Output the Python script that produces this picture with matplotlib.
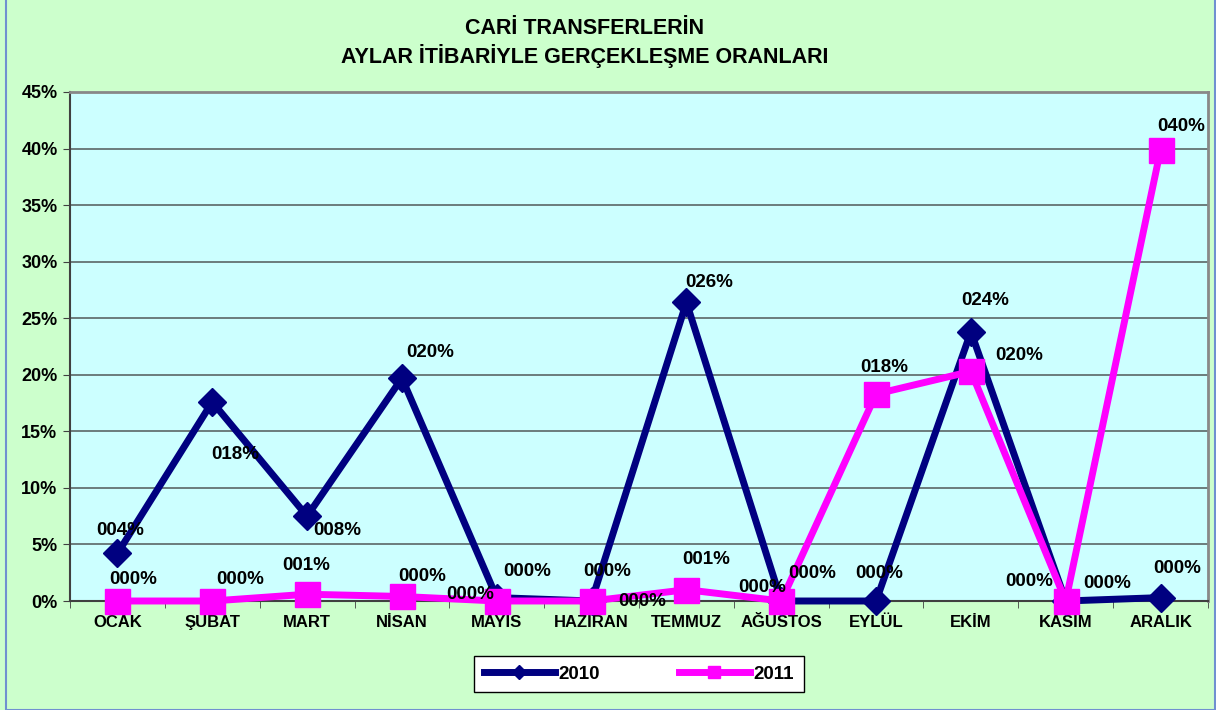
import numpy as np
import matplotlib
matplotlib.use("Agg")
import matplotlib.pyplot as plt
from matplotlib.lines import Line2D
from matplotlib.patches import Rectangle

plt.rcParams['font.family'] = ['Liberation Sans', 'DejaVu Sans']
plt.rcParams['font.weight'] = 'bold'

months = ["OCAK", "ŞUBAT", "MART", "NİSAN", "MAYIS", "HAZİRAN",
          "TEMMUZ", "AĞUSTOS", "EYLÜL", "EKİM", "KASIM", "ARALIK"]
v2010 = [0.042, 0.176, 0.075, 0.197, 0.003, 0.0,
         0.264, 0.0, 0.0, 0.238, 0.0, 0.003]
v2011 = [0.0, 0.0, 0.006, 0.004, 0.0, 0.0,
         0.010, 0.0, 0.183, 0.203, 0.0, 0.399]

# label offsets (pixels) from each point
off2010 = [(3, 23), (23, -53), (30, -14), (28, 26), (-27, 3), (16, 30),
           (23, 20), (-19, 13), (3, 27), (14, 31), (41, 17), (17, 29)]
off2011 = [(16, 22), (28, 22), (-1, 29), (20, 20), (30, 29), (51, 0),
           (20, 30), (31, 27), (8, 27), (48, 16), (-37, 20), (21, 23)]

W, H = 1216, 710
fig = plt.figure(figsize=(W / 100, H / 100), dpi=100, facecolor="#CCFFCC")
fig.patches.append(Rectangle((6 / W, 0.5 / H), (1215 - 6) / W, 1.2, transform=fig.transFigure,
                             fill=False, edgecolor="#7090D0", linewidth=1.5))

ax = fig.add_axes([70 / W, (H - 601) / H, (1208 - 70) / W, (601 - 92) / H])
ax.set_facecolor("#CCFFFF")

x = np.arange(len(months))
ax.plot(x, v2010, color="#000080", lw=5, marker="D", ms=14, zorder=3, clip_on=False)
ax.plot(x, v2011, color="#FF00FF", lw=5, marker="s", ms=18, zorder=4, clip_on=False)

for i, v in enumerate(v2010):
    ax.annotate("%03d%%" % round(v * 100), (x[i], v), xytext=off2010[i], textcoords="offset pixels",
                ha="center", va="center", fontsize=13.5, fontweight="bold", zorder=6)
for i, v in enumerate(v2011):
    ax.annotate("%03d%%" % round(v * 100), (x[i], v), xytext=off2011[i], textcoords="offset pixels",
                ha="center", va="center", fontsize=13.5, fontweight="bold", zorder=6)

ax.set_xlim(-0.5, 11.5)
ax.set_ylim(0, 0.45)
ax.set_yticks(np.arange(0, 0.451, 0.05))
ax.set_yticklabels(["%d%%" % round(t * 100) for t in np.arange(0, 0.451, 0.05)], fontsize=13, fontweight="bold")
ax.set_xticks(x)
ax.set_xticklabels(months, fontsize=12, fontweight="bold")
ax.set_xticks(np.arange(-0.5, 12, 1), minor=True)
ax.tick_params(axis="x", which="major", length=0, pad=10)
ax.tick_params(axis="x", which="minor", length=5, direction="out", color="#404040")
ax.tick_params(axis="y", length=5, direction="out", color="#404040", pad=4)
ax.grid(axis="y", color="#5A6666", lw=1.2)
ax.set_axisbelow(True)

for s in ["top", "right"]:
    ax.spines[s].set_color("#888888")
    ax.spines[s].set_linewidth(2)
for s in ["left", "bottom"]:
    ax.spines[s].set_color("#404040")
    ax.spines[s].set_linewidth(1.5)

fig.text(585 / W, 1 - 29 / H, "CARİ TRANSFERLERİN", ha="center", va="center",
         fontsize=15.5, fontweight="bold")
fig.text(585 / W, 1 - 56 / H, "AYLAR İTİBARİYLE GERÇEKLEŞME ORANLARI", ha="center", va="center",
         fontsize=15.5, fontweight="bold")

handles = [Line2D([], [], color="#000080", lw=5, marker="D", ms=7),
           Line2D([], [], color="#FF00FF", lw=5, marker="s", ms=9)]
leg = fig.legend(handles, ["2010", "2011"], loc="center", bbox_to_anchor=(639 / W, 1 - 674 / H),
                 ncol=2, fontsize=13.5, frameon=True, fancybox=False, handlelength=3.8,
                 columnspacing=4.2, borderpad=0.5, handletextpad=0.2, borderaxespad=0,
                 framealpha=1)
leg.get_frame().set_edgecolor("black")
leg.get_frame().set_facecolor("white")
leg.get_frame().set_linewidth(1)
for t in leg.get_texts():
    t.set_fontweight("bold")

fig.savefig("out.png", dpi=100, facecolor=fig.get_facecolor())
